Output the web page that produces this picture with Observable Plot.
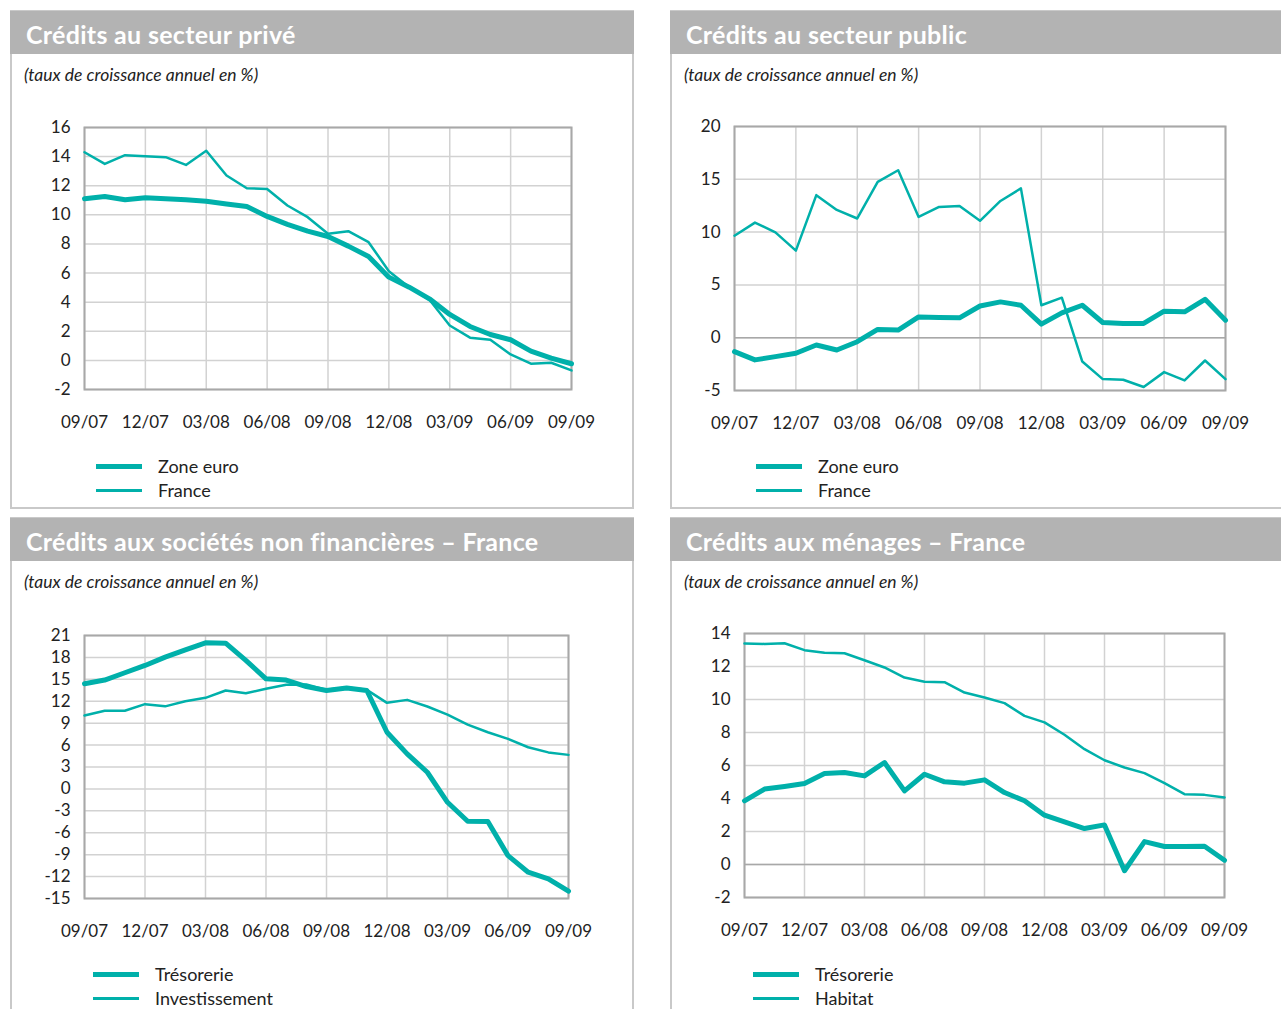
<!DOCTYPE html>
<html><head><meta charset="utf-8">
<script src="https://cdn.jsdelivr.net/npm/d3@7"></script>
<script src="https://cdn.jsdelivr.net/npm/@observablehq/plot@0.6"></script>
<style>
body{margin:0;background:#fff;font-family:Lato,"DejaVu Sans",sans-serif;color:#222;}
#root{position:relative;width:1281px;height:1009px;overflow:hidden;}
.panel{position:absolute;border:2px solid #c9c9c9;box-sizing:border-box;}
.head{position:absolute;background:#b3b3b3;color:#fff;font-weight:700;font-size:25px;letter-spacing:0.3px;line-height:47px;padding-left:16px;box-sizing:border-box;white-space:nowrap;overflow:hidden;}
.sub{position:absolute;font-style:italic;font-size:17.5px;color:#222;white-space:nowrap;}
.chart{position:absolute;}
.leg{position:absolute;font-size:18px;color:#222;white-space:nowrap;}
.leg .sw{position:absolute;background:#00b0aa;}
</style></head>
<body><div id="root"></div>
<script>
// ---- data ----
const xLabels = ["09/07","12/07","03/08","06/08","09/08","12/08","03/09","06/09","09/09"];
const subtitle = "(taux de croissance annuel en %)";

const titleA = "Crédits au secteur privé";
const seriesA = ["Zone euro","France"];
const zoneEuroPrive = [11.1,11.26,11.03,11.17,11.1,11.03,10.94,10.75,10.57,9.89,9.34,8.88,8.51,7.85,7.14,5.72,5.03,4.23,3.16,2.33,1.78,1.42,0.64,0.16,-0.23];
const francePrive = [14.3,13.5,14.1,14.03,13.96,13.43,14.4,12.7,11.83,11.78,10.64,9.84,8.7,8.88,8.12,6.13,5.03,4.16,2.4,1.56,1.42,0.41,-0.23,-0.16,-0.69];
const yTicksA = [-2,0,2,4,6,8,10,12,14,16];

const titleB = "Crédits au secteur public";
const seriesB = ["Zone euro","France"];
const zoneEuroPublic = [-1.32,-2.1,-1.79,-1.47,-0.69,-1.16,-0.38,0.78,0.72,1.97,1.91,1.88,3.0,3.39,3.07,1.29,2.35,3.07,1.44,1.35,1.35,2.51,2.45,3.64,1.66];
const francePublic = [9.66,10.9,9.97,8.24,13.5,12.1,11.29,14.76,15.86,11.44,12.38,12.48,11.07,12.95,14.14,3.07,3.79,-2.26,-3.92,-3.98,-4.67,-3.26,-4.04,-2.16,-3.92];
const yTicksB = [-5,0,5,10,15,20];

const titleC = "Crédits aux sociétés non financières – France";
const seriesC = ["Trésorerie","Investissement"];
const tresorerieSNF = [14.4,14.9,15.9,16.9,18.04,19.04,20.0,19.95,17.6,15.07,14.9,14.0,13.47,13.8,13.47,7.76,4.8,2.28,-1.83,-4.43,-4.47,-9.13,-11.4,-12.3,-14.0];
const investissementSNF = [10.05,10.7,10.7,11.6,11.3,12.0,12.47,13.47,13.1,13.7,14.25,14.3,13.56,13.9,13.56,11.78,12.19,11.28,10.18,8.8,7.76,6.85,5.7,5.0,4.66];
const yTicksC = [-15,-12,-9,-6,-3,0,3,6,9,12,15,18,21];

const titleD = "Crédits aux ménages – France";
const seriesD = ["Trésorerie","Habitat"];
const tresorerieMen = [3.86,4.57,4.73,4.91,5.52,5.58,5.37,6.18,4.46,5.47,5.01,4.93,5.13,4.36,3.86,2.99,2.59,2.18,2.4,-0.38,1.39,1.09,1.09,1.11,0.26];
const habitatMen = [13.4,13.37,13.41,12.99,12.83,12.8,12.38,11.94,11.33,11.07,11.05,10.42,10.12,9.78,9.01,8.61,7.86,6.99,6.32,5.88,5.54,4.93,4.26,4.22,4.06];
const yTicksD = [-2,0,2,4,6,8,10,12,14];

const TEAL = "#00b0aa";
const root = document.getElementById("root");

function el(cls, css, text){
  const d = document.createElement("div");
  d.className = cls;
  Object.assign(d.style, css);
  if (text != null) d.textContent = text;
  root.appendChild(d);
  return d;
}

function panel(cfg){
  const {px, py, pw, ph, title, series, thick, thin, yTicks, plot, leg, zeroRule} = cfg;
  el("panel", {left:px+"px", top:py+"px", width:pw+"px", height:ph+"px"});
  el("head", {left:px+"px", top:(py+1)+"px", width:pw+"px", height:"43px"}, title);
  el("sub", {left:(px+14)+"px", top:(py+54)+"px"}, subtitle);

  const mL = 45, mR = 30, mT = 15, mB = 55;
  const W = plot.x1 - plot.x0, H = plot.y1 - plot.y0;
  const idx = thick.map((_, i) => i);
  const marks = [
    Plot.gridX({ticks: d3.range(0, 25, 3), stroke: "#d2d2d2", strokeOpacity: 1, strokeWidth: 1.5}),
    Plot.gridY({ticks: yTicks, stroke: "#d2d2d2", strokeOpacity: 1, strokeWidth: 1.5}),
  ];
  if (zeroRule) marks.push(Plot.ruleY([0], {stroke: "#a8a8a8", strokeWidth: 1.5}));
  marks.push(
    Plot.frame({stroke: "#a8a8a8", strokeWidth: 2}),
    Plot.axisX({ticks: d3.range(0, 25, 3), tickSize: 0, tickPadding: 26, tickFormat: i => xLabels[i / 3]}),
    Plot.axisY({ticks: yTicks, tickSize: 0, tickPadding: 14, tickFormat: d => String(d)}),
    Plot.line(idx, {x: i => i, y: i => thin[i], stroke: TEAL, strokeWidth: 2.5}),
    Plot.line(idx, {x: i => i, y: i => thick[i], stroke: TEAL, strokeWidth: 5})
  );
  const svg = Plot.plot({
    width: W + mL + mR, height: H + mT + mB,
    marginLeft: mL, marginRight: mR, marginTop: mT, marginBottom: mB,
    x: {domain: [0, 24]},
    y: {domain: [yTicks[0], yTicks[yTicks.length - 1]]},
    style: {fontSize: "17px", fontFamily: "Lato, sans-serif", color: "#222", background: "transparent", overflow: "visible"},
    marks
  });
  const c = el("chart", {left:(plot.x0 - mL)+"px", top:(plot.y0 - mT)+"px"});
  c.appendChild(svg);

  // legend
  const lg = el("leg", {left: leg.x + "px", top: leg.y + "px"});
  const items = [[series[0], 5], [series[1], 3]];
  items.forEach(([name, w], k) => {
    const sw = document.createElement("div");
    sw.className = "sw";
    Object.assign(sw.style, {left: "0px", top: (k * 24 + 11 - w / 2) + "px", width: "46px", height: w + "px"});
    lg.appendChild(sw);
    const t = document.createElement("div");
    Object.assign(t.style, {position: "absolute", left: "62px", top: (k * 24) + "px", lineHeight: "22px"});
    t.textContent = name;
    lg.appendChild(t);
  });
}

panel({px:10, py:10, pw:624, ph:499, title:titleA, series:seriesA, thick:zoneEuroPrive, thin:francePrive, yTicks:yTicksA,
  plot:{x0:84, x1:571, y0:127, y1:389}, leg:{x:96, y:455}});
panel({px:670, py:10, pw:620, ph:499, title:titleB, series:seriesB, thick:zoneEuroPublic, thin:francePublic, yTicks:yTicksB,
  plot:{x0:734, x1:1225, y0:126, y1:390}, leg:{x:756, y:455}, zeroRule:true});
panel({px:10, py:517, pw:624, ph:510, title:titleC, series:seriesC, thick:tresorerieSNF, thin:investissementSNF, yTicks:yTicksC,
  plot:{x0:84, x1:568, y0:635, y1:898}, leg:{x:93, y:963}});
panel({px:670, py:517, pw:620, ph:510, title:titleD, series:seriesD, thick:tresorerieMen, thin:habitatMen, yTicks:yTicksD,
  plot:{x0:744, x1:1224, y0:633, y1:897}, leg:{x:753, y:963}, zeroRule:true});
</script></body></html>
